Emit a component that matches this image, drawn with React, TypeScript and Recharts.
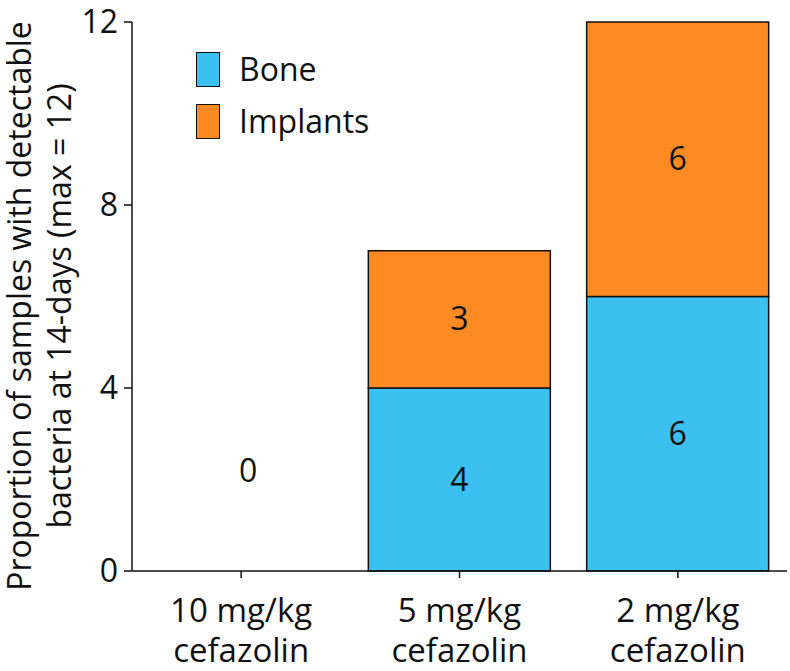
import React from 'react';
import { BarChart, Bar, XAxis, YAxis, Legend, LabelList } from 'recharts';

const categories = ['10 mg/kg|cefazolin', '5 mg/kg|cefazolin', '2 mg/kg|cefazolin'];
const boneValues = [0, 4, 6];
const implantValues = [0, 3, 6];
const yTicks = [0, 4, 8, 12];

const BLUE = '#3BC0EF';
const ORANGE = '#FD8A22';
const FONT = '"Open Sans", sans-serif';
const FS = 32;
const XFS = 33;

const data = categories.map((c, i) => ({ name: c, bone: boneValues[i], implants: implantValues[i] }));

const XTick = (props: any) => {
  const { x, y, payload } = props;
  const idx = payload.index;
  const [l1, l2] = String(payload.value).split('|');
  const total = boneValues[idx] + implantValues[idx];
  return (
    <g>
      {total === 0 && (
        <text x={x + 7} y={y - 98} textAnchor="middle" fontSize={FS} fontFamily={FONT} fill="#111">{total}</text>
      )}
      <text x={x} y={y} textAnchor="middle" fontSize={XFS} fontFamily={FONT} fill="#111">
        <tspan x={x} dy={42}>{l1}</tspan>
        <tspan x={x} dy={40}>{l2}</tspan>
      </text>
    </g>
  );
};

const YLabel = () => {
  const cy = 306;
  return (
    <g>
      <text x={0} y={0} transform={`translate(31, ${cy}) rotate(-90)`} textAnchor="middle" fontSize={FS} fontFamily={FONT} fill="#111">
        <tspan x={0} dy={0}>Proportion of samples with detectable</tspan>
        <tspan x={0} dy={40}>bacteria at 14-days (max = 12)</tspan>
      </text>
    </g>
  );
};

const CenterLabel = (props: any) => {
  const { x, y, width, height, value } = props;
  if (!value) return null;
  return (
    <text x={x + width / 2} y={y + height / 2 + 11} textAnchor="middle" fontSize={FS} fontFamily={FONT} fill="#111">{value}</text>
  );
};

const LegendContent = () => {
  const items = [
    { label: 'Bone', color: BLUE },
    { label: 'Implants', color: ORANGE },
  ];
  return (
    <div style={{ fontFamily: FONT, fontSize: FS, color: '#111' }}>
      {items.map((it) => (
        <div key={it.label} style={{ display: 'flex', alignItems: 'center', height: 52 }}>
          <div style={{ width: 22, height: 33, background: it.color, border: '1.5px solid #111', marginRight: 19 }} />
          <span style={{ lineHeight: 1 }}>{it.label}</span>
        </div>
      ))}
    </div>
  );
};

export default function App() {
  return (
    <div style={{ position: 'absolute', left: 0, top: 0, background: '#fff' }}>
      <BarChart width={790} height={671} data={data} margin={{ top: 22, right: 3, bottom: 0, left: 0 }}>
        <XAxis
          dataKey="name"
          tick={<XTick />}
          tickSize={7}
          height={100}
          axisLine={{ stroke: '#111', strokeWidth: 1.5 }}
          tickLine={{ stroke: '#111', strokeWidth: 1.5 }}
          interval={0}
        />
        <YAxis
          domain={[0, 12]}
          ticks={yTicks}
          width={132}
          tickSize={8}
          tickMargin={6}
          tick={{ fontSize: FS, fontFamily: FONT, fill: '#111' }}
          axisLine={{ stroke: '#111', strokeWidth: 1.5 }}
          tickLine={{ stroke: '#111', strokeWidth: 1.5 }}
          label={{ content: <YLabel /> }}
        />
        <Legend
          layout="vertical"
          align="center"
          verticalAlign="middle"
          content={<LegendContent />}
          wrapperStyle={{ position: 'absolute', left: 196, top: 43, width: 'auto' }}
        />
        <Bar dataKey="bone" stackId="a" fill={BLUE} stroke="#111" strokeWidth={1.5} barSize={182} isAnimationActive={false}>
          <LabelList dataKey="bone" content={<CenterLabel />} />
        </Bar>
        <Bar dataKey="implants" stackId="a" fill={ORANGE} stroke="#111" strokeWidth={1.5} barSize={182} isAnimationActive={false}>
          <LabelList dataKey="implants" content={<CenterLabel />} />
        </Bar>
      </BarChart>
    </div>
  );
}
